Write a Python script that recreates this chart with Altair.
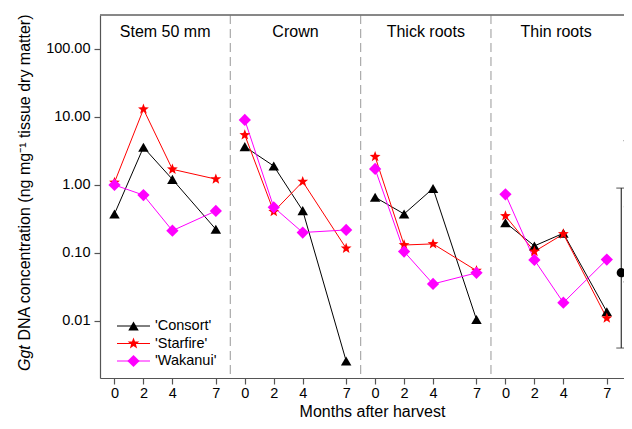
import altair as alt
import pandas as pd
import numpy as np

# ---------------- data ----------------
panels = ["Stem 50 mm", "Crown", "Thick roots", "Thin roots"]
months = [0, 2, 4, 7]
series = ["'Consort'", "'Starfire'", "'Wakanui'"]
colors = ["#000000", "#ff0000", "#ff00ff"]

# values per panel (rows) and month (columns)
consort = [[0.375, 3.58, 1.21, 0.223],
           [3.66, 1.90, 0.42, 0.00258],
           [0.66, 0.375, 0.89, 0.0105],
           [0.279, 0.127, 0.195, 0.0137]]
starfire = [[1.09, 13.0, 1.70, 1.22],
            [5.43, 0.405, 1.12, 0.117],
            [2.61, 0.131, 0.136, 0.055],
            [0.35, 0.105, 0.19, 0.011]]
wakanui = [[1.0, 0.71, 0.213, 0.415],
           [9.03, 0.47, 0.20, 0.218],
           [1.72, 0.105, 0.035, 0.051],
           [0.73, 0.079, 0.0186, 0.08]]

# partially visible fifth panel (means with error bars)
err_pos = [35.0, 35.5, 36.05]
err_mean = [0.0513, 0.48, 13.6]
err_low = [0.0040, 0.0375, 0.93]
err_high = [0.90, 4.48, 190.0]

y_ticks = [0.01, 0.1, 1, 10, 100]

# ---------------- build tables ----------------
STEP = 9  # x units per panel
rows = []
for s_name, block in zip(series, [consort, starfire, wakanui]):
    for p_i, p_name in enumerate(panels):
        for m, v in zip(months, block[p_i]):
            rows.append({"series": s_name, "panel": p_name,
                         "pos": p_i * STEP + m, "value": v})
df = pd.DataFrame(rows)

titles_df = pd.DataFrame({"title": panels,
                          "center": [i * STEP + 3.5 for i in range(len(panels))]})
sep_df = pd.DataFrame({"b": [i * STEP - 1 for i in range(1, len(panels))]})
err_df = pd.DataFrame({"pos": err_pos, "mean": err_mean,
                       "low": err_low, "high": err_high})

# ---------------- layout ----------------
W, H = 524, 363
FONT = "Liberation Sans"
tick_vals = [p * STEP + m for p in range(len(panels)) for m in months]

xscale = alt.Scale(domain=[-1, -1 + W / 14.48], nice=False, zero=False)
xaxis = alt.Axis(values=tick_vals, labelExpr="datum.value % 9", title="Months after harvest",
                 titleX=272, titleY=38.5, titleBaseline="alphabetic", titleAlign="center",
                 titleFontSize=16, titleFontWeight="normal", titleFont=FONT,
                 labelPadding=2, grid=False)
yscale = alt.Scale(type="log", domain=[0.00145, 316], nice=False)
yaxis = alt.Axis(values=y_ticks, format=".2f", title=None, labelPadding=4, grid=False)


def X(field):
    return alt.X(f"{field}:Q", scale=xscale, axis=xaxis)


def Y(field):
    return alt.Y(f"{field}:Q", scale=yscale, axis=yaxis)


# star path in unit coordinates
star_pts = []
for k in range(10):
    r = 1.0 if k % 2 == 0 else 0.42
    a = -np.pi / 2 + k * np.pi / 5
    star_pts.append(f"{r*np.cos(a):.3f},{r*np.sin(a):.3f}")
STAR = "M" + "L".join(star_pts) + "Z"
shapes = ["triangle-up", STAR, "diamond"]
sizes = [110, 150, 150]

color_enc = alt.Color("series:N", scale=alt.Scale(domain=series, range=colors), legend=None)

separators = alt.Chart(sep_df).mark_rule(color="#aaaaaa", strokeWidth=1.2, strokeDash=[9, 5]).encode(
    x=X("b"))

top_border = alt.Chart(sep_df).mark_rule(color="#777777", strokeWidth=1).encode(
    x=alt.value(0), x2=alt.value(W), y=alt.value(0))

lines = alt.Chart(df).mark_line(strokeWidth=1).encode(
    x=X("pos"), y=Y("value"), color=color_enc, detail="panel:N")

points = alt.Chart(df).mark_point(filled=True, opacity=1).encode(
    x=X("pos"), y=Y("value"), color=color_enc,
    shape=alt.Shape("series:N", scale=alt.Scale(domain=series, range=shapes), legend=None),
    size=alt.Size("series:N", scale=alt.Scale(domain=series, range=sizes), legend=None))

ptitles = alt.Chart(titles_df).mark_text(fontSize=16, font=FONT, color="black", baseline="middle").encode(
    x=X("center"), y=alt.value(17), text="title:N")

err_rule = alt.Chart(err_df).mark_rule(color="#333333", strokeWidth=1.2, clip=True).encode(
    x=X("pos"), y=Y("low"), y2="high:Q")
cap_lo = alt.Chart(err_df).mark_tick(orient="horizontal", size=10, thickness=1.2, color="#333333",
                                     clip=True).encode(x=X("pos"), y=Y("low"))
cap_hi = alt.Chart(err_df).mark_tick(orient="horizontal", size=10, thickness=1.2, color="#333333",
                                     clip=True).encode(x=X("pos"), y=Y("high"))
err_pt = alt.Chart(err_df).mark_circle(size=85, color="black", opacity=1, clip=True).encode(
    x=X("pos"), y=Y("mean"))

# legend drawn in the first panel
one = pd.DataFrame({"a": [0]})
legend_layers = []
leg_y = [311, 328.5, 346]
for s_name, col, shp, sz, ly in zip(series, colors, shapes, sizes, leg_y):
    legend_layers.append(alt.Chart(one).mark_rule(color=col, strokeWidth=1).encode(
        x=alt.value(17), x2=alt.value(50), y=alt.value(ly)))
    legend_layers.append(alt.Chart(one).mark_point(shape=shp, filled=True, color=col, size=sz, opacity=1).encode(
        x=alt.value(33.5), y=alt.value(ly)))
    legend_layers.append(alt.Chart(one).mark_text(align="left", baseline="middle", fontSize=14.5,
                                                  font=FONT, color="black").encode(
        x=alt.value(55), y=alt.value(ly), text=alt.value(s_name)))

# y axis title (Ggt in italics)
ytitle1 = alt.Chart(one).mark_text(angle=270, align="left", baseline="alphabetic", fontSize=16,
                                   font=FONT, fontStyle="italic", color="black").encode(
    x=alt.value(-70.5), y=alt.value(356), text=alt.value("Ggt"))
ytitle2 = alt.Chart(one).mark_text(angle=270, align="left", baseline="alphabetic", fontSize=16,
                                   font=FONT, color="black").encode(
    x=alt.value(-70.5), y=alt.value(325.5), text=alt.value("DNA concentration (ng mg\u207b\u00b9 tissue dry matter)"))

chart = alt.layer(
    separators, top_border, lines, points, ptitles,
    err_rule, cap_lo, cap_hi, err_pt,
    *legend_layers, ytitle1, ytitle2
).properties(
    width=W, height=H,
    autosize=alt.AutoSizeParams(type="none"),
    padding={"left": 92, "top": 7, "right": 0, "bottom": 42},
).configure_view(stroke=None).configure_axis(
    labelFont=FONT, labelFontSize=14.5, labelColor="black",
    domainColor="#555555", tickColor="#555555", tickSize=6, domainWidth=1.2, tickWidth=1.2,
)

chart.save("out.html", embed_options={"renderer": "svg", "actions": False})
